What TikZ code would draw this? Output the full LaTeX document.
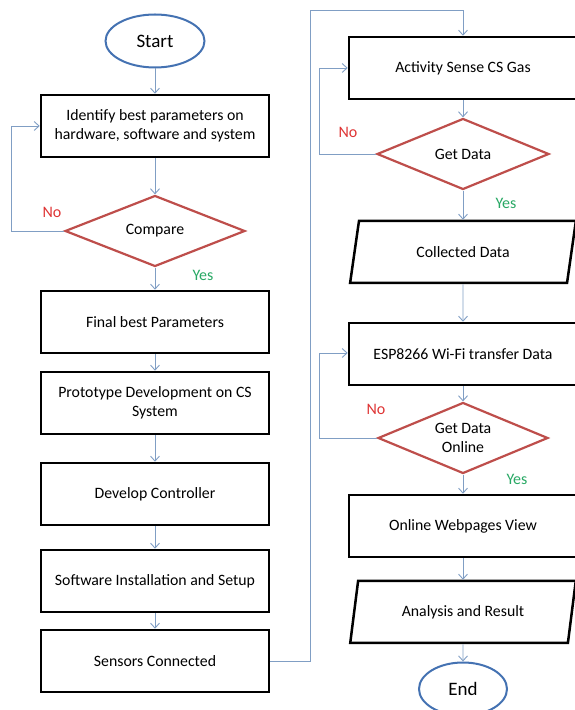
\documentclass[tikz,border=0pt]{standalone}
\usepackage{fontspec}
\setmainfont{Carlito}
\usepackage{tikz}
\usetikzlibrary{arrows.meta,shapes.geometric}

\definecolor{linecol}{RGB}{128,158,196}
\definecolor{termcol}{RGB}{68,114,178}
\definecolor{deccol}{RGB}{190,78,75}
\definecolor{nocol}{RGB}{222,52,52}
\definecolor{yescol}{RGB}{40,168,100}

\tikzset{
  term/.style={ellipse,draw=termcol,line width=2pt,minimum width=99pt,minimum height=53pt,
    font=\fontsize{19}{22}\selectfont},
  block/.style={rectangle,draw=black,line width=2.5pt,minimum width=228pt,minimum height=62pt,
    align=center,font=\fontsize{15.8}{18.5}\selectfont},
  decision/.style={diamond,aspect=2.4,draw=deccol,line width=2.2pt,minimum width=180pt,minimum height=71pt,
    inner sep=0pt,align=center,font=\fontsize{15.8}{18.5}\selectfont},
  io/.style={trapezium,trapezium left angle=76.5,trapezium right angle=103.5,trapezium stretches=true,
    draw=black,line width=2.5pt,minimum width=226pt,minimum height=62pt,
    font=\fontsize{15.8}{18.5}\selectfont},
  line/.style={draw=linecol,line width=0.9pt},
  nolabel/.style={text=nocol,font=\fontsize{16}{18}\selectfont},
  yeslabel/.style={text=yescol,font=\fontsize{16}{18}\selectfont}
}

\begin{document}
\begin{tikzpicture}[->,>={Straight Barb[length=5pt,width=9pt]},
        every edge/.style={line},node distance=85pt]

  \useasboundingbox (0,0) rectangle (575pt,710pt);

  \node[term] (start) at (155pt,669pt) {Start};
  \node[block] (ident) [node distance=85pt,below of=start] {Identify best parameters on\\hardware, software and system};
  \node[decision] (compare) [node distance=105pt,below of=ident] {Compare};
  \node[block] (final) [node distance=91pt,below of=compare] {Final best Parameters};
  \node[block] (proto) [node distance=81pt,below of=final] {Prototype Development on CS\\System};
  \node[block] (ctrl) [node distance=91pt,below of=proto] {Develop Controller};
  \node[block] (soft) [node distance=87pt,below of=ctrl] {Software Installation and Setup};
  \node[block] (sensors) [node distance=80pt,below of=soft] {Sensors Connected};

  \node[block] (sense) at (463pt,642pt) {Activity Sense CS Gas};
  \node[decision] (getdata) [node distance=86pt,below of=sense,minimum width=172pt] {Get Data};
  \node[io] (collected) [node distance=98pt,below of=getdata] {Collected Data};
  \node[block] (esp) [node distance=102pt,below of=collected] {ESP8266 Wi-Fi transfer Data};
  \node[decision] (online) [node distance=84pt,below of=esp,minimum width=170pt] {Get Data\\Online};
  \node[block] (web) [node distance=88pt,below of=online] {Online Webpages View};
  \node[io] (result) [node distance=86pt,below of=web] {Analysis and Result};
  \node[term] (stop) [node distance=77pt,below of=result,minimum width=88pt] {End};

  \coordinate (top) at (310pt,700pt);

  \node[nolabel] (no1) at ([xshift=-12pt,yshift=19pt]compare.west) {No};
  \node[yeslabel] (yes1) at ([xshift=48pt,yshift=-8pt]compare.south) {Yes};
  \node[nolabel] (no2) at ([xshift=-28pt,yshift=22pt]getdata.west) {No};
  \node[yeslabel] (yes2) at ([xshift=43pt,yshift=-13pt]getdata.south) {Yes};
  \node[nolabel] (no3) at ([xshift=-1pt,yshift=29pt]online.west) {No};
  \node[yeslabel] (yes3) at ([xshift=54pt,yshift=-5pt]online.south) {Yes};

  \path (start) edge (ident)
        (ident) edge (compare)
        (compare) edge (final)
        (final) edge (proto)
        (proto) edge (ctrl)
        (ctrl) edge (soft)
        (soft) edge (sensors)
        (sense) edge (getdata)
        (getdata) edge (collected)
        (collected) edge (esp)
        (esp) edge (online)
        (online) edge (web)
        (web) edge (result)
        (result) edge (stop);

  \draw[line] (compare.west) -- ++(-52pt,0) |- (ident.west);
  \draw[line] (getdata.west) -- ++(-56pt,0) |- (sense.west);
  \draw[line] (online.west) -- ++(-57pt,0) |- ([yshift=1pt]esp.west);
  \draw[line] (sensors.east) -| (top) -| (sense.north);

\end{tikzpicture}
\end{document}
